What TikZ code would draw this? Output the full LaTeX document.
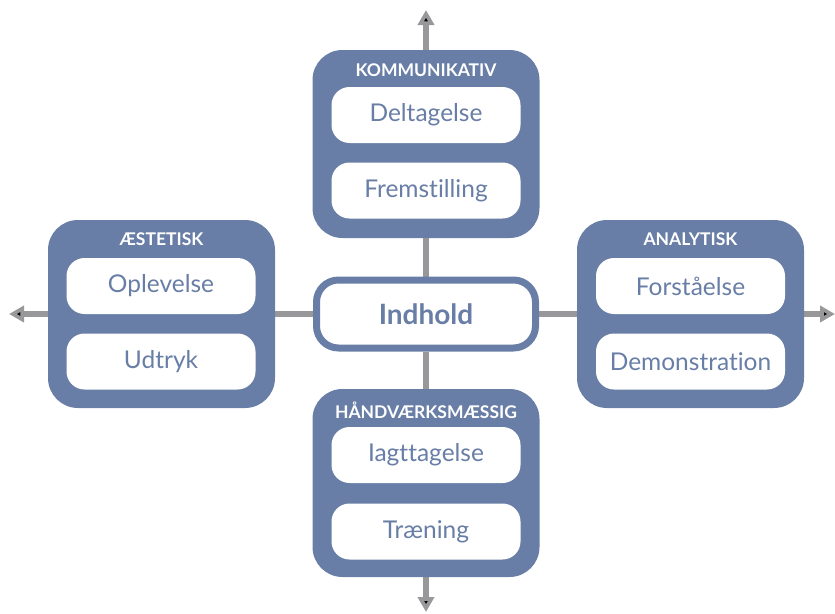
\documentclass[tikz,border=0pt]{standalone}
\usepackage{fontspec}
\setmainfont{Lato}[Ligatures=NoCommon]
\usepackage{tikz}
\usetikzlibrary{arrows.meta, positioning, backgrounds}
\definecolor{fagblaa}{RGB}{104,126,166}
\definecolor{aksegraa}{RGB}{152,152,154}

\begin{document}
\begin{tikzpicture}[x=1pt,y=-1pt,
  omraade/.style={rounded corners=30pt, fill=fagblaa, minimum width=227pt, minimum height=188pt, inner sep=0pt},
  felt/.style={rounded corners=18pt, fill=white, text=fagblaa, minimum width=189pt, minimum height=56pt, inner sep=0pt, font=\fontsize{24.5}{28}\selectfont},
  overskrift/.style={text=white, font=\bfseries\fontsize{17.5}{20}\selectfont, inner sep=0pt},
  akse/.style={draw=aksegraa, line width=6pt},
  pil/.style={akse, -{Triangle[width=16pt,length=15pt]}}]
\useasboundingbox (0,0) rectangle (835,613);

% the four areas
\node[omraade] (kom) at (426,144) {};
\node[omraade] (aes) at (161.5,314) {};
\node[omraade] (ana) at (690.5,314) {};
\node[omraade] (haand) at (426,483) {};

\node[overskrift] at (426,70) {KOMMUNIKATIV};
\node[overskrift] at (161.5,239) {ÆSTETISK};
\node[overskrift] at (690.5,239) {ANALYTISK};
\node[overskrift] at (426,410) {HÅNDVÆRKSMÆSSIG};

\node[felt] (delt) at (426,115) {Deltagelse};
\node[felt] (frem) at (426,190.5) {Fremstilling};
\node[felt] (oplev) at (161,286) {Oplevelse};
\node[felt] (udtryk) at (161,361.5) {Udtryk};
\node[felt] (forst) at (690.5,286) {Forståelse};
\node[felt] (demo) at (690.5,361.5) {Demonstration};
\node[felt] (iagt) at (426,455) {Iagttagelse};
\node[felt] (traen) at (426,531.5) {Træning};

% content in the middle
\node[draw=fagblaa, line width=7pt, fill=white, rounded corners=22pt, minimum width=219pt, minimum height=68pt,
  text=fagblaa, font=\bfseries\fontsize{28}{32}\selectfont] (indhold) at (426,314) {Indhold};

\coordinate (op) at (426,10);
\coordinate (ned) at (426,612);
\coordinate (venstre) at (9,314);
\coordinate (hoejre) at (835,314);

\begin{scope}[on background layer]
\path[akse]
(indhold) edge (kom)
(indhold) edge (aes)
(indhold) edge (ana)
(indhold) edge (haand);
\path[pil]
(kom) edge (op)
(haand) edge (ned)
(aes) edge (venstre)
(ana) edge (hoejre);
\end{scope}
\end{tikzpicture}
\end{document}
